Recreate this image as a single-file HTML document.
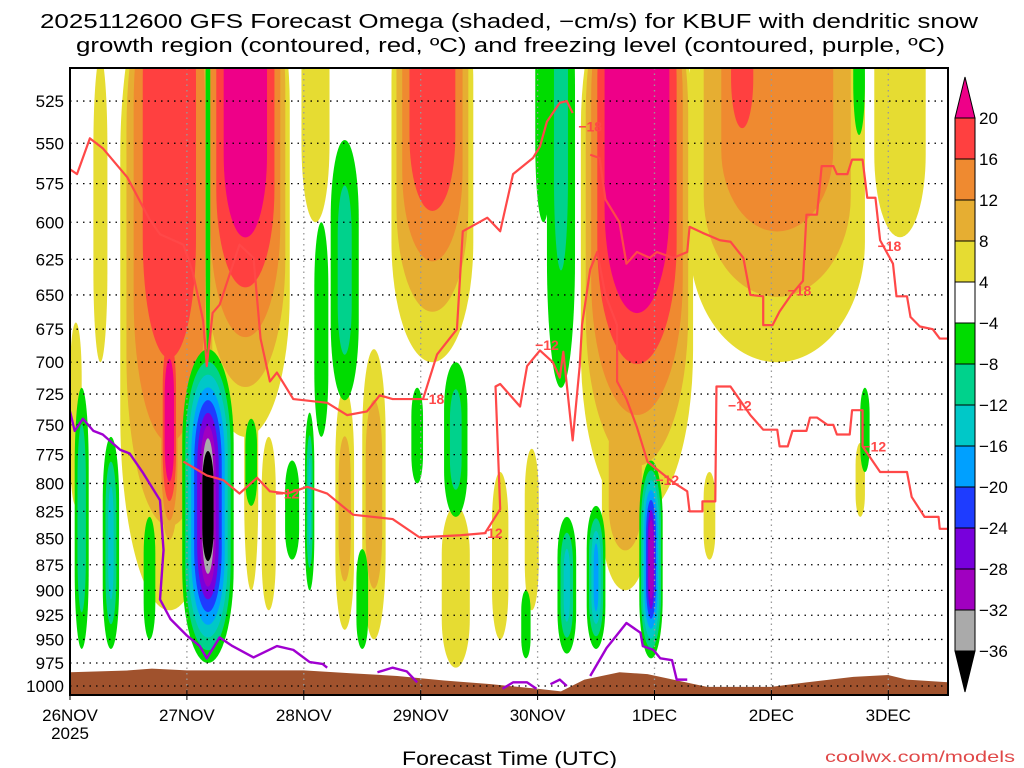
<!DOCTYPE html>
<html><head><meta charset="utf-8"><style>
html,body{margin:0;padding:0;background:#fff;}
svg{display:block;font-family:"Liberation Sans","DejaVu Sans",sans-serif;}
</style></head><body>
<svg id="chart" width="1024" height="768" viewBox="0 0 1024 768" xmlns="http://www.w3.org/2000/svg">
<defs><clipPath id="plotclip"><rect x="70" y="68" width="878" height="627"/></clipPath></defs>
<text x="40" y="28" font-size="20" textLength="938" lengthAdjust="spacingAndGlyphs" fill="#000">2025112600 GFS Forecast Omega (shaded, −cm/s) for KBUF with dendritic snow</text>
<text x="76" y="52" font-size="20" textLength="869" lengthAdjust="spacingAndGlyphs" fill="#000">growth region (contoured, red, ºC) and freezing level (contoured, purple, ºC)</text>
<g id="plot" clip-path="url(#plotclip)"></g>
<g id="axes"></g>
<g id="cbar"></g>
<text x="402" y="765" font-size="19" textLength="215" lengthAdjust="spacingAndGlyphs" fill="#000">Forecast Time (UTC)</text>
<text x="825" y="762" font-size="16" textLength="190" lengthAdjust="spacingAndGlyphs" fill="#e04848">coolwx.com/models</text>
</svg>
<script>
// ---- data ----
const dayLabels = ["26NOV","27NOV","28NOV","29NOV","30NOV","1DEC","2DEC","3DEC"];
const pressureTicks = [525,550,575,600,625,650,675,700,725,750,775,800,825,850,875,900,925,950,975,1000];
const posLevels = [4,8,12,16,20];
const posColors = ["#e6dc32","#e6ae32","#ef8a30","#ff4040","#ee0088"];
const negLevels = [-4,-8,-12,-16,-20,-24,-28,-32,-36];
const negColors = ["#00dc00","#00d28c","#00c8c8","#00a0ff","#1e3cff","#7800dc","#a000c0","#aaaaaa","#000000"];
const cbarLabels = ["20","16","12","8","4","−4","−8","−12","−16","−20","−24","−28","−32","−36"];
// omega cells: time (days), top pressure, bottom pressure, half-width (days), peak value
const blobT    = [0.85,1.5,0.26,0.05,3.1,2.1,4.85,6.05,5.75,7.1,2.35,2.6,1.7,1.55,3.3,3.68,3.95,5.47,6.76,4.75,1.05,0.85,
                  1.18,4.97,4.5,4.25,2.35,2.15,3.3,0.1,0.35,0.68,2.05,2.97,4.05,6.75,6.8,4.2,1.9,3.9,2.5,1.55,1.18];
const blobPtop = [450,450,500,670,450,450,450,450,450,450,720,690,760,640,820,790,770,790,765,700,420,640,
                  690,780,820,830,548,600,700,720,760,830,740,720,450,450,720,450,780,900,860,745,450];
const blobPbot = [920,760,700,820,700,600,830,700,620,610,940,950,920,900,980,950,920,870,830,900,700,870,
                  975,970,960,965,730,760,830,960,960,950,900,800,600,545,790,720,870,970,960,820,700];
const blobHw   = [0.42,0.38,0.06,0.05,0.35,0.12,0.48,0.75,0.2,0.22,0.08,0.10,0.06,0.06,0.12,0.07,0.06,0.05,0.04,0.2,0.05,0.09,
                  0.22,0.10,0.08,0.08,0.12,0.06,0.10,0.06,0.07,0.05,0.04,0.05,0.07,0.05,0.04,0.12,0.06,0.04,0.05,0.05,0.02];
const blobPeak = [19,23,6,6,19.5,6,26,15.5,17.5,6,9,10,6,6,7,6,6,6,6,10,7,22,
                  -36.5,-30,-18,-14,-10,-6,-10,-12,-14,-6,-13,-6,-8,-8,-6,-10,-6,-6,-6,-6,-6];
// -18 C and -12 C isotherms (time days, pressure hPa)
const iso18a = [[0,566],[0.06,569],[0.17,547],[0.28,553],[0.49,571],[0.68,598],[0.77,608],[0.97,615],[1.05,634],[1.14,669],[1.17,703],[1.22,663],[1.28,657],[1.45,615],[1.57,624],[1.63,682],[1.71,715],[1.77,708],[1.91,729],[2.20,732],[2.37,742],[2.54,739],[2.65,726],[2.76,729],[3.02,729],[3.14,694],[3.31,675],[3.36,606],[3.57,597],[3.68,606],[3.79,569],[3.96,559],[4.02,552],[4.08,537],[4.19,526],[4.25,525],[4.30,532]];
const iso18b = [[4.45,557],[4.53,559],[4.58,585],[4.70,600],[4.76,628],[4.85,620],[4.96,624],[5.02,620],[5.16,624],[5.28,620],[5.30,603],[5.41,607],[5.56,612],[5.65,613],[5.76,624],[5.82,650],[5.93,651],[5.93,672],[6.01,672],[6.07,662],[6.16,651],[6.27,640],[6.30,595],[6.39,595],[6.43,564],[6.53,564],[6.56,569],[6.65,569],[6.69,560],[6.78,560],[6.82,584],[6.89,584],[6.93,612],[7.04,628],[7.07,651],[7.16,651],[7.19,666],[7.27,673],[7.38,675],[7.44,682],[7.53,682]];
const iso12 = [[0.97,781],[1.17,793],[1.31,797],[1.45,809],[1.60,795],[1.71,807],[1.86,809],[2.03,803],[2.20,809],[2.42,828],[2.76,832],[2.99,849],[3.34,847],[3.55,845],[3.68,823],[3.64,719],[3.68,717],[3.85,735],[3.91,703],[4.02,691],[4.13,700],[4.19,712],[4.22,692],[4.30,763],[4.36,703],[4.38,672],[4.45,632],[4.51,620],[4.58,650],[4.68,672],[4.68,715],[4.76,729],[4.85,752],[4.94,781],[5.0,786],[5.16,799],[5.28,807],[5.30,825],[5.41,825],[5.41,816],[5.52,816],[5.53,719],[5.65,719],[5.82,742],[5.93,754],[6.05,754],[6.07,768],[6.14,768],[6.18,755],[6.30,755],[6.33,744],[6.39,744],[6.48,750],[6.53,750],[6.56,758],[6.67,758],[6.69,738],[6.78,738],[6.78,768],[6.93,790],[7.16,790],[7.20,812],[7.31,830],[7.43,830],[7.44,841],[7.53,841]];
const isoLabelT = [4.45,6.24,7.01,3.1,1.86,3.6,4.08,5.11,5.73,6.88];
const isoLabelP = [540,647,616,729,809,845,687,797,734,768];
const isoLabelTxt = ["−18","−18","−18","−18","−12","−12","−12","−12","−12","−12"];
const frzA = [[0,739],[0.04,755],[0.11,745],[0.20,755],[0.28,758],[0.43,771],[0.51,774],[0.62,790],[0.77,815],[0.80,861],[0.77,909],[0.86,929],[1.0,946],[1.11,957],[1.17,970],[1.28,948],[1.39,957],[1.57,969],[1.77,957],[1.91,961],[2.05,974],[2.16,976],[2.20,980]];
const frzB = [[2.63,985],[2.76,980],[2.88,984],[2.97,996]];
const frzC = [[3.70,1003],[3.79,996],[3.91,996],[3.99,1003]];
const frzD = [[4.11,998],[4.19,993],[4.25,1000]];
const frzE = [[4.45,989],[4.59,959],[4.76,933],[4.88,943],[4.90,957],[4.99,961],[5.05,970],[5.15,972],[5.19,993],[5.28,993]];
const terrainT = [0,0.5,0.7,1.0,1.5,2.0,2.4,2.8,3.2,3.6,4.0,4.2,4.4,4.7,4.94,5.16,5.45,6.0,6.3,6.7,7.0,7.16,7.53];
const terrainP = [985,983,981,983,983,983,986,989,994,998,1003,1006,993,985,987,993,1001,1001,996,990,988,993,996];

// ---- scales ----
const X = t => 70 + t*116.9;
const Y = p => 686 - 907.8*Math.log(1000/p);
const NS = "http://www.w3.org/2000/svg";
function mk(tag, attrs, parent){ const e=document.createElementNS(NS,tag); for(const k in attrs) e.setAttribute(k,attrs[k]); parent.appendChild(e); return e; }
const plot = document.getElementById('plot');
const axes = document.getElementById('axes');
const cbar = document.getElementById('cbar');

// shaded cells, drawn level by level
function drawCells(levels, colors, sign){
  levels.forEach((lv,i)=>{
    for(let b=0;b<blobT.length;b++){
      const pk = blobPeak[b];
      if(sign>0 ? !(pk>lv) : !(pk<lv)) continue;
      const k = 1 - (Math.abs(lv)-4)/(Math.abs(pk)-2);
      let y1=Y(blobPtop[b]), y2=Y(blobPbot[b]);
      const h = y2-y1;
      if(blobPtop[b] < 500){ y2 = y1 + h*(0.45+0.55*k); }
      else { const c=(y1+y2)/2, hh=h*(0.3+0.7*k)/2; y1=c-hh; y2=c+hh; }
      const wf = sign>0 ? Math.sqrt(Math.max(k,0.05)) : Math.max(k,0.22);
      const w = blobHw[b]*116.9*Math.max(wf,0.22);
      const e = mk('rect',{x:X(blobT[b])-w,y:y1,width:2*w,height:y2-y1,rx:w,ry:Math.min((y2-y1)/2,(y2-y1)*0.3),fill:colors[i]},plot);
      
      
    }
  });
}
drawCells(posLevels,posColors,1);
drawCells(negLevels,negColors,-1);

// terrain
{
  let d = `M${X(terrainT[0])},695 `;
  terrainT.forEach((t,i)=>{ d += `L${X(t)},${Y(terrainP[i])} `; });
  d += `L${X(terrainT[terrainT.length-1])},695 Z`;
  const e = mk('path',{d:d,fill:'#a0522d'},plot);
  
  
}
// grid
pressureTicks.forEach(p=>{
  const l = mk('line',{x1:70,x2:948,y1:Y(p),y2:Y(p),stroke:'#000','stroke-width':1.3,'stroke-dasharray':'1.5,5'},plot);
  
  
});
dayLabels.forEach((d,i)=>{
  const l = mk('line',{x1:X(i),x2:X(i),y1:68,y2:695,stroke:'#999','stroke-width':1.3,'stroke-dasharray':'1.5,4'},plot);
  
  
});
// lines
function poly(arr, color, w, name){
  const e = mk('polyline',{points:arr.map(a=>X(a[0])+','+Y(a[1])).join(' '),fill:'none',stroke:color,'stroke-width':w,'stroke-linejoin':'round'},plot);
  
  
}
poly(iso18a,'#ff4848',2.2,'isotherm-minus18');
poly(iso18b,'#ff4848',2.2,'isotherm-minus18');
poly(iso12,'#ff4848',2.2,'isotherm-minus12');
[frzA,frzB,frzC,frzD,frzE].forEach(a=>poly(a,'#a000d0',2.4,'freezing-level'));
isoLabelT.forEach((t,i)=>{
  const tx = mk('text',{x:X(t),y:Y(isoLabelP[i])+5,'font-size':14,'font-weight':'bold',fill:'#ff4848','text-anchor':'middle'},plot);
  tx.textContent = isoLabelTxt[i];
  
  
});

// frame & axes
{
  const f = mk('rect',{x:70,y:68,width:878,height:627,fill:'none',stroke:'#000','stroke-width':2},axes);
  
  
}
pressureTicks.forEach(p=>{
  const t = mk('text',{x:64,y:Y(p)+6,'font-size':17,'text-anchor':'end',fill:'#000'},axes);
  t.textContent = p;
  
  
});
dayLabels.forEach((d,i)=>{
  const tk = mk('line',{x1:X(i),x2:X(i),y1:690,y2:700,stroke:'#000','stroke-width':1},axes);
  
  
  const t = mk('text',{x:X(i),y:721,'font-size':17,'text-anchor':'middle',fill:'#000'},axes);
  t.textContent = d;
  
  
});
{
  const t = mk('text',{x:X(0),y:739,'font-size':17,'text-anchor':'middle',fill:'#000'},axes);
  t.textContent = "2025";
  
  
}

// colorbar
{
  const cx=955, cw=20, top=118, step=41;
  const allColors = posColors.slice().reverse().concat(["#ffffff"]).concat(negColors);
  const tri1 = mk('polygon',{points:`${cx},${top} ${cx+cw},${top} ${cx+cw/2},${top-41}`,fill:allColors[0],stroke:'#000','stroke-width':1},cbar);
  
  
  for(let i=1;i<allColors.length-1;i++){
    const r = mk('rect',{x:cx,y:top+(i-1)*step,width:cw,height:step,fill:allColors[i],stroke:'#000','stroke-width':1},cbar);
    
    
  }
  const bot = top+13*step;
  const tri2 = mk('polygon',{points:`${cx},${bot} ${cx+cw},${bot} ${cx+cw/2},${bot+41}`,fill:'#000',stroke:'#000','stroke-width':1},cbar);
  
  
  cbarLabels.forEach((s,i)=>{
    const t = mk('text',{x:979,y:top+i*step+6,'font-size':17,fill:'#000'},cbar);
    t.textContent = s;
    
    
  });
}
</script>
</body></html>
